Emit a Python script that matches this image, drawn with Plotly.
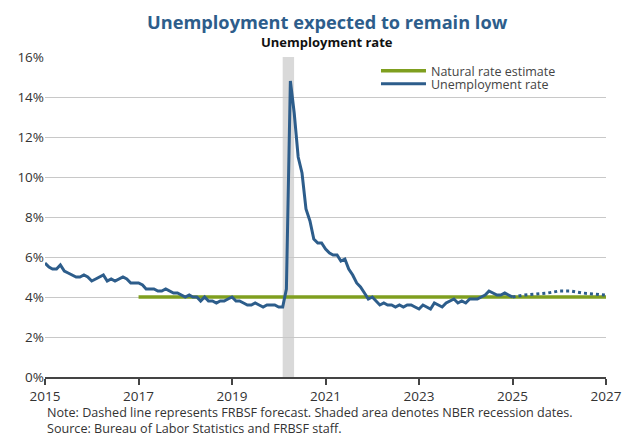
import plotly.graph_objects as go
import pandas as pd

# Monthly unemployment rate, Jan 2015 - Jan 2025 (%)
unrate = [
    5.7, 5.5, 5.4, 5.4, 5.6, 5.3, 5.2, 5.1, 5.0, 5.0, 5.1, 5.0,
    4.8, 4.9, 5.0, 5.1, 4.8, 4.9, 4.8, 4.9, 5.0, 4.9, 4.7, 4.7,
    4.7, 4.6, 4.4, 4.4, 4.4, 4.3, 4.3, 4.4, 4.3, 4.2, 4.2, 4.1,
    4.0, 4.1, 4.0, 4.0, 3.8, 4.0, 3.8, 3.8, 3.7, 3.8, 3.8, 3.9,
    4.0, 3.8, 3.8, 3.7, 3.6, 3.6, 3.7, 3.6, 3.5, 3.6, 3.6, 3.6,
    3.5, 3.5, 4.4, 14.8, 13.2, 11.0, 10.2, 8.4, 7.8, 6.9, 6.7, 6.7,
    6.4, 6.2, 6.1, 6.1, 5.8, 5.9, 5.4, 5.1, 4.7, 4.5, 4.2, 3.9,
    4.0, 3.8, 3.6, 3.7, 3.6, 3.6, 3.5, 3.6, 3.5, 3.6, 3.6, 3.5,
    3.4, 3.6, 3.5, 3.4, 3.7, 3.6, 3.5, 3.7, 3.8, 3.9, 3.7, 3.8,
    3.7, 3.9, 3.9, 3.9, 4.0, 4.1, 4.3, 4.2, 4.1, 4.1, 4.2, 4.1,
    4.0,
]
unrate_dates = pd.date_range("2015-01-01", periods=len(unrate), freq="MS")

# FRBSF forecast (quarterly, %)
forecast_dates = pd.to_datetime([
    "2025-01-01", "2025-04-01", "2025-07-01", "2025-10-01",
    "2026-01-01", "2026-04-01", "2026-07-01", "2026-10-01", "2027-01-01",
])
forecast = [4.0, 4.1, 4.15, 4.2, 4.3, 4.3, 4.2, 4.15, 4.1]

# Natural rate estimate (%)
natural_dates = pd.to_datetime(["2017-01-01", "2027-01-01"])
natural = [4.0, 4.0]

recession_start = "2020-02-01"
recession_end = "2020-04-30"

y_ticks = [0, 2, 4, 6, 8, 10, 12, 14, 16]
y_ticklabels = [f"{v}%" for v in y_ticks]
x_years = ["2015", "2017", "2019", "2021", "2023", "2025", "2027"]

BLUE = "#2d5d8b"
GREEN = "#7f9f1f"
FONT = "Open Sans"

fig = go.Figure()

fig.add_vrect(x0=recession_start, x1=recession_end, fillcolor="#d9d9d9",
              line_width=0, layer="below")

fig.add_trace(go.Scatter(x=natural_dates, y=natural, mode="lines",
                         name="Natural rate estimate", legend="legend",
                         line=dict(color=GREEN, width=3.5)))
fig.add_trace(go.Scatter(x=unrate_dates, y=unrate, mode="lines",
                         name="Unemployment rate", legend="legend2",
                         line=dict(color=BLUE, width=3)))
fig.add_trace(go.Scatter(x=forecast_dates, y=forecast, mode="lines",
                         name="Forecast", showlegend=False,
                         line=dict(color=BLUE, width=3, dash="dot")))

legend_common = dict(xanchor="left", yanchor="top", bgcolor="rgba(0,0,0,0)",
                     font=dict(size=12.5, color="#444444", family=FONT),
                     itemwidth=45)

fig.update_layout(
    width=634, height=436,
    margin=dict(l=45, r=26, t=57, b=59),
    paper_bgcolor="white", plot_bgcolor="white",
    font=dict(family=FONT, color="#333333", size=13),
    showlegend=True,
    legend=dict(x=0.59, y=1.003, **legend_common),
    legend2=dict(x=0.59, y=0.962, **legend_common),
    xaxis=dict(
        type="date",
        range=["2015-01-01", "2027-01-01"],
        tickvals=pd.to_datetime([y + "-01-01" for y in x_years]),
        ticktext=x_years,
        showgrid=False, showline=True, linecolor="#444444", linewidth=1.5,
        ticks="outside", ticklen=6, tickcolor="#444444", tickwidth=1.5,
        tickfont=dict(size=13.5, color="#333333"),
    ),
    yaxis=dict(
        range=[0, 16], tickvals=y_ticks, ticktext=y_ticklabels,
        showgrid=True, gridcolor="#c8c8c8", gridwidth=1,
        zeroline=False, showline=False, ticks="",
        tickfont=dict(size=13.5, color="#333333"),
    ),
    annotations=[
        dict(text="<b>Unemployment expected to remain low</b>",
             xref="paper", yref="paper", x=0.503, y=1.0, yshift=35,
             xanchor="center", yanchor="middle", showarrow=False,
             font=dict(size=18.2, color="#2d5d8b", family=FONT)),
        dict(text="<b>Unemployment rate</b>",
             xref="paper", yref="paper", x=0.503, y=1.0, yshift=15,
             xanchor="center", yanchor="middle", showarrow=False,
             font=dict(size=13, color="#111111", family=FONT)),
        dict(text="Note: Dashed line represents FRBSF forecast. Shaded area denotes NBER recession dates."
                  "<br>Source: Bureau of Labor Statistics and FRBSF staff.",
             xref="paper", yref="paper", x=0.0, y=0.0, yshift=-25,
             xanchor="left", yanchor="top", align="left", showarrow=False,
             font=dict(size=12.6, color="#333333", family=FONT)),
    ],
)

fig.write_html(
    "out.html",
    config={"displayModeBar": False},
    post_script="document.body.style.margin='0';document.body.style.overflow='hidden';",
)
